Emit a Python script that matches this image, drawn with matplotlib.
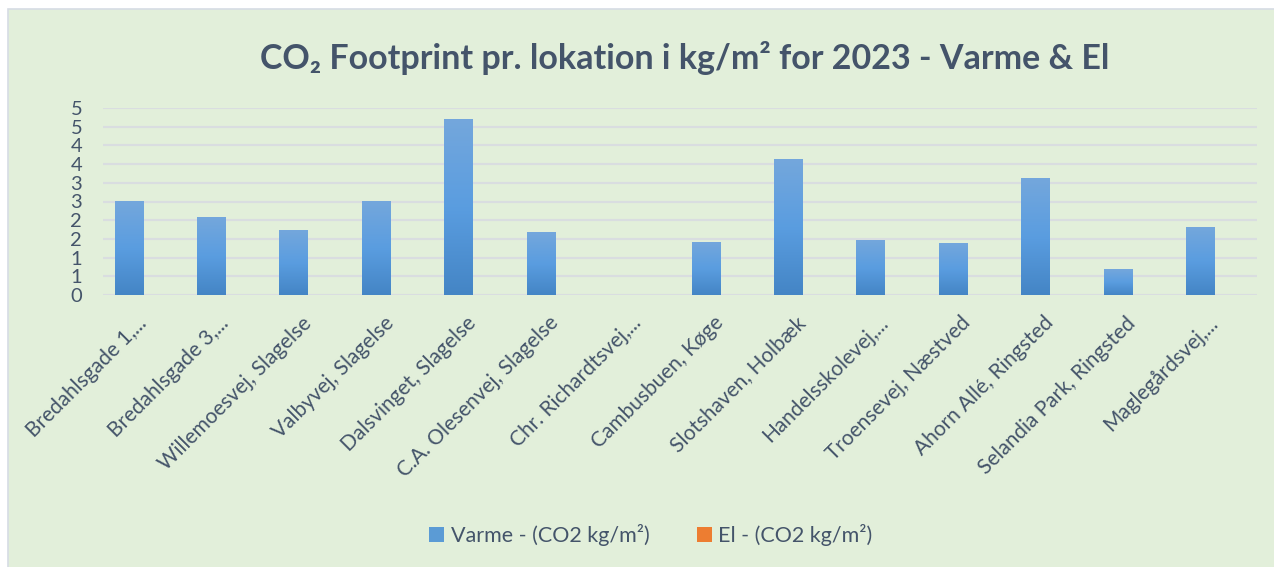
import numpy as np
import matplotlib
matplotlib.use("Agg")
import matplotlib.pyplot as plt
import matplotlib.transforms as mtransforms
from matplotlib.patches import Rectangle

# data
locations = ['Bredahlsgade 1,...', 'Bredahlsgade 3,...', 'Willemoesvej, Slagelse',
             'Valbyvej, Slagelse', 'Dalsvinget, Slagelse', 'C.A. Olesenvej, Slagelse',
             'Chr. Richardtsvej,...', 'Cambusbuen, Køge', 'Slotshaven, Holbæk',
             'Handelsskolevej,...', 'Troensevej, Næstved', 'Ahorn Allé, Ringsted',
             'Selandia Park, Ringsted', 'Maglegårdsvej,...']
varme = [2.5, 2.07, 1.72, 2.5, 4.69, 1.67, 0.0, 1.4, 3.62, 1.46, 1.38, 3.11, 0.67, 1.8]
el = [0.0] * 14
yticks = [0, 0.5, 1, 1.5, 2, 2.5, 3, 3.5, 4, 4.5, 5]
ytick_labels = ['0', '1', '1', '2', '2', '3', '3', '4', '4', '5', '5']

bg = '#e2efda'
txt = '#44546a'
fonts = ['Lato', 'DejaVu Sans']

fig = plt.figure(figsize=(12.74, 5.67), dpi=100)
fig.patch.set_facecolor('white')
# chart area with thin border
fig.patches.append(Rectangle((8 / 1274, -0.01), 1.0, 1 - 9 / 567 + 0.01, transform=fig.transFigure,
                             facecolor=bg, edgecolor='#d6dce4', linewidth=1.2, zorder=-1))

ax = fig.add_axes([103 / 1274, 1 - 295 / 567, (1257 - 103) / 1274, (295 - 108) / 567])
ax.set_facecolor('none')

x = np.arange(len(locations))
w = 0.34
bars = ax.bar(x - 0.19, varme, width=w, color='#5b9bd5', zorder=3, label='Varme - (CO2 kg/m²)')
ax.bar(x + 0.15, el, width=w, color='#ed7d31', zorder=3, label='El - (CO2 kg/m²)')

# vertical gradient on the blue bars
grad = np.linspace(0, 1, 256).reshape(-1, 1)
cmap = matplotlib.colors.LinearSegmentedColormap.from_list('g', ['#4485c5', '#5a9de0', '#74a7dc'])
for b in bars:
    if b.get_height() > 0:
        ax.imshow(grad, cmap=cmap, origin='lower', aspect='auto', zorder=4,
                  extent=[b.get_x(), b.get_x() + b.get_width(), 0, b.get_height()])

ax.set_xlim(-0.5, len(locations) - 0.5)
ax.set_ylim(0, 5)
ax.set_yticks(yticks)
ax.set_yticklabels(ytick_labels, family=fonts, fontsize=14.5, color=txt)
ax.yaxis.grid(True, color='#d9dde0', linewidth=1.6, zorder=1)
ax.set_axisbelow(True)
ax.tick_params(axis='y', length=0, pad=15)
ax.tick_params(axis='x', length=0, pad=18)
ax.set_xticks(x)
ax.set_xticklabels(locations, rotation=45, ha='right', va='center', rotation_mode='anchor',
                   family=fonts, fontsize=15, color=txt)
shift = mtransforms.ScaledTranslation(-1 / 100, 0, fig.dpi_scale_trans)
for lab in ax.get_xticklabels():
    lab.set_transform(lab.get_transform() + shift)
for s in ax.spines.values():
    s.set_visible(False)

fig.text(685 / 1274, 1 - 58 / 567, 'CO₂ Footprint pr. lokation i kg/m² for 2023 - Varme & El',
         ha='center', va='center', fontsize=24.5, fontweight='bold', color=txt, family=fonts)

leg = fig.legend(loc='center', bbox_to_anchor=(651 / 1274, 1 - 535 / 567), ncol=2, frameon=False,
                 prop={'family': fonts, 'size': 15.5}, handlelength=0.7, handleheight=0.7,
                 handletextpad=0.3, columnspacing=2.2)
for t in leg.get_texts():
    t.set_color(txt)

fig.savefig('out.png', dpi=100, facecolor='white')
